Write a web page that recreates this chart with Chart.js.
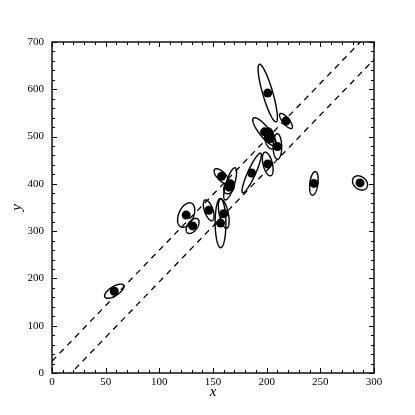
<!DOCTYPE html>
<html>
<head>
<meta charset="utf-8">
<script src="https://cdn.jsdelivr.net/npm/chart.js@4"></script>
<style>
  html, body { margin: 0; padding: 0; background: #fff; }
  #wrap { width: 415px; height: 415px; position: relative; }
</style>
</head>
<body>
<div id="wrap"><canvas id="chart" width="415" height="415"></canvas></div>
<script>
// measurements: x, y, sigma_x, sigma_y, rho_xy
const xVals  = [201, 244, 287, 203, 58, 210, 202, 198, 158, 165, 201, 157, 131, 166, 160, 186, 125, 218, 146];
const yVals  = [592, 401, 402, 495, 173, 479, 504, 510, 416, 393, 442, 317, 311, 400, 337, 423, 334, 533, 344];
const sigmaX = [9, 4, 7, 5, 9, 4, 4, 11, 7, 5, 5, 5, 6, 6, 5, 9, 8, 6, 5];
const sigmaY = [61, 25, 15, 21, 15, 27, 14, 30, 16, 14, 25, 52, 16, 34, 31, 42, 26, 16, 22];
const rhoXY  = [-0.84, 0.31, -0.27, -0.33, 0.67, -0.02, -0.05, -0.84, -0.69, 0.30, -0.46, -0.03, 0.50, 0.73, -0.52, 0.90, 0.40, -0.78, -0.56];

// dashed lines (endpoints)
const upperLineX = [0, 300];
const upperLineY = [25, 730];
const lowerLineX = [0, 300];
const lowerLineY = [-42, 663];

// axis ticks
const xTicks = [0, 50, 100, 150, 200, 250, 300];
const yTicks = [0, 100, 200, 300, 400, 500, 600, 700];
const xMinorStep = 10;
const yMinorStep = 20;

const FONT = '"Liberation Serif", "DejaVu Serif", serif';

const toPoints = (xs, ys) => xs.map((x, i) => ({ x: x, y: ys[i] }));

// error ellipses, inward ticks, frame and axis titles
const framePlugin = {
    id: 'frame',
    beforeDatasetsDraw(chart) {
        const ctx = chart.ctx;
        const sx = chart.scales.x, sy = chart.scales.y;
        ctx.save();
        ctx.strokeStyle = '#000';
        ctx.lineWidth = 1.4;
        xVals.forEach((x0, i) => {
            const y0 = yVals[i];
            const c = Math.sqrt(1 - rhoXY[i] * rhoXY[i]);
            ctx.beginPath();
            for (let k = 0; k <= 100; k++) {
                const t = k / 100 * 2 * Math.PI;
                const x = x0 + sigmaX[i] * Math.cos(t);
                const y = y0 + sigmaY[i] * (rhoXY[i] * Math.cos(t) + c * Math.sin(t));
                const px = sx.getPixelForValue(x), py = sy.getPixelForValue(y);
                if (k === 0) ctx.moveTo(px, py); else ctx.lineTo(px, py);
            }
            ctx.closePath();
            ctx.stroke();
        });
        ctx.restore();
    },
    afterDraw(chart) {
        const ctx = chart.ctx;
        const a = chart.chartArea;
        const sx = chart.scales.x, sy = chart.scales.y;
        ctx.save();
        ctx.strokeStyle = '#000';
        ctx.lineWidth = 1;
        ctx.beginPath();
        for (let v = xTicks[0]; v <= xTicks[xTicks.length - 1]; v += xMinorStep) {
            const len = xTicks.includes(v) ? 5 : 3;
            const px = Math.round(sx.getPixelForValue(v)) + 0.5;
            ctx.moveTo(px, a.bottom); ctx.lineTo(px, a.bottom - len);
            ctx.moveTo(px, a.top); ctx.lineTo(px, a.top + len);
        }
        for (let v = yTicks[0]; v <= yTicks[yTicks.length - 1]; v += yMinorStep) {
            const len = yTicks.includes(v) ? 5 : 3;
            const py = Math.round(sy.getPixelForValue(v)) + 0.5;
            ctx.moveTo(a.left, py); ctx.lineTo(a.left + len, py);
            ctx.moveTo(a.right, py); ctx.lineTo(a.right - len, py);
        }
        ctx.stroke();
        ctx.lineWidth = 1.4;
        ctx.strokeRect(a.left, a.top, a.right - a.left, a.bottom - a.top);

        // axis titles
        ctx.fillStyle = '#000';
        ctx.font = 'italic 15px ' + FONT;
        ctx.textAlign = 'center';
        ctx.textBaseline = 'middle';
        ctx.fillText('x', (a.left + a.right) / 2, 392);
        ctx.translate(17, (a.top + a.bottom) / 2);
        ctx.rotate(-Math.PI / 2);
        ctx.fillText('y', 0, 0);
        ctx.restore();
    }
};

new Chart(document.getElementById('chart'), {
    type: 'scatter',
    data: {
        datasets: [
            {
                data: toPoints(xVals, yVals),
                backgroundColor: '#000',
                borderWidth: 0,
                pointRadius: 4.5
            },
            {
                type: 'line',
                data: toPoints(upperLineX, upperLineY),
                borderColor: '#000',
                borderWidth: 1.3,
                borderDash: [6, 5],
                pointRadius: 0,
                fill: false
            },
            {
                type: 'line',
                data: toPoints(lowerLineX, lowerLineY),
                borderColor: '#000',
                borderWidth: 1.3,
                borderDash: [6, 5],
                pointRadius: 0,
                fill: false
            }
        ]
    },
    options: {
        responsive: false,
        animation: false,
        layout: { padding: { top: 42, right: 41, left: 0, bottom: 0 } },
        plugins: {
            legend: { display: false },
            tooltip: { enabled: false }
        },
        scales: {
            x: {
                type: 'linear',
                min: 0,
                max: 300,
                afterBuildTicks: (s) => { s.ticks = xTicks.map(v => ({ value: v })); },
                afterFit: (s) => { s.height = 42; },
                grid: { display: false, drawTicks: false },
                border: { display: false },
                ticks: { color: '#000', padding: 3, font: { family: FONT, size: 11 } }
            },
            y: {
                type: 'linear',
                min: 0,
                max: 700,
                afterBuildTicks: (s) => { s.ticks = yTicks.map(v => ({ value: v })); },
                afterFit: (s) => { s.width = 52; },
                grid: { display: false, drawTicks: false },
                border: { display: false },
                ticks: { color: '#000', padding: 8, font: { family: FONT, size: 11 } }
            }
        }
    },
    plugins: [framePlugin]
});
</script>
</body>
</html>
